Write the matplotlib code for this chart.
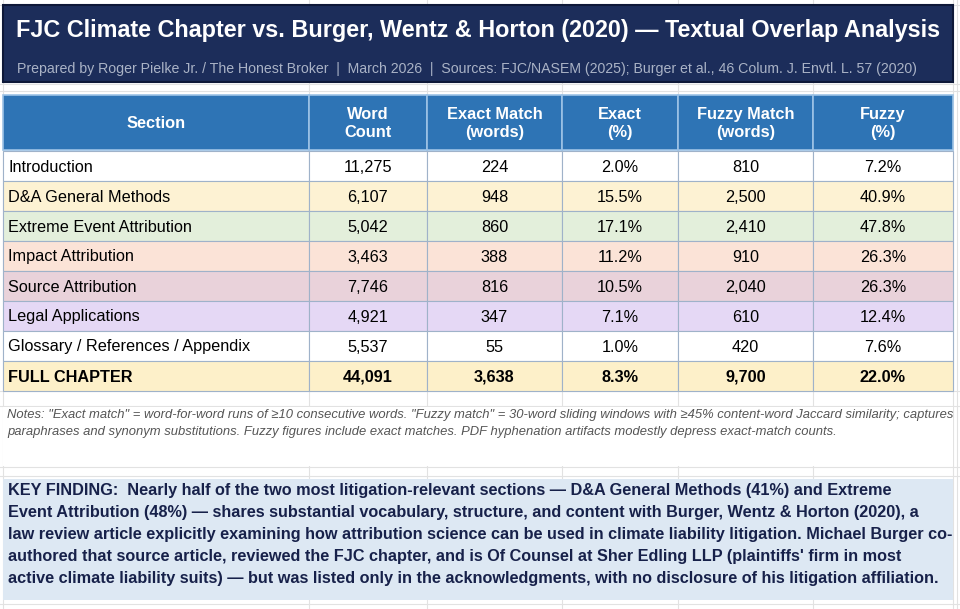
import matplotlib
matplotlib.use("Agg")
import matplotlib.pyplot as plt
from matplotlib.patches import Rectangle

plt.rcParams['font.family'] = ['Liberation Sans', 'DejaVu Sans']

title = "FJC Climate Chapter vs. Burger, Wentz & Horton (2020) \u2014 Textual Overlap Analysis"
subtitle = ("Prepared by Roger Pielke Jr. / The Honest Broker  |  March 2026  |  "
            "Sources: FJC/NASEM (2025); Burger et al., 46 Colum. J. Envtl. L. 57 (2020)")

headers = ["Section", "Word\nCount", "Exact Match\n(words)", "Exact\n(%)",
           "Fuzzy Match\n(words)", "Fuzzy\n(%)"]
sections = ["Introduction", "D&A General Methods", "Extreme Event Attribution",
            "Impact Attribution", "Source Attribution", "Legal Applications",
            "Glossary / References / Appendix", "FULL CHAPTER"]
word_count = [11275, 6107, 5042, 3463, 7746, 4921, 5537, 44091]
exact_words = [224, 948, 860, 388, 816, 347, 55, 3638]
exact_pct = [2.0, 15.5, 17.1, 11.2, 10.5, 7.1, 1.0, 8.3]
fuzzy_words = [810, 2500, 2410, 910, 2040, 610, 420, 9700]
fuzzy_pct = [7.2, 40.9, 47.8, 26.3, 26.3, 12.4, 7.6, 22.0]
row_colors = ["#ffffff", "#fdf2d3", "#e3efdb", "#fbe3d7", "#e9d2da",
              "#e5d8f5", "#ffffff", "#fdf0c9"]

notes = ['Notes: "Exact match" = word-for-word runs of \u226510 consecutive words. '
         '"Fuzzy match" = 30-word sliding windows with \u226545% content-word Jaccard similarity; captures',
         'paraphrases and synonym substitutions. Fuzzy figures include exact matches. '
         'PDF hyphenation artifacts modestly depress exact-match counts.']

key_lines = [
    "KEY FINDING:  Nearly half of the two most litigation-relevant sections \u2014 D&A General Methods (41%) and Extreme",
    "Event Attribution (48%) \u2014 shares substantial vocabulary, structure, and content with Burger, Wentz & Horton (2020), a",
    "law review article explicitly examining how attribution science can be used in climate liability litigation. Michael Burger co-",
    "authored that source article, reviewed the FJC chapter, and is Of Counsel at Sher Edling LLP (plaintiffs' firm in most",
    "active climate liability suits) \u2014 but was listed only in the acknowledgments, with no disclosure of his litigation affiliation.",
]

W, H = 960, 609
fig = plt.figure(figsize=(W / 100, H / 100), dpi=100)
ax = fig.add_axes([0, 0, 1, 1])
ax.set_xlim(0, W)
ax.set_ylim(H, 0)
ax.axis("off")

col_x = [3, 309, 427, 562, 678, 813, 953]

# spreadsheet background grid
grid_c = "#e2e2e2"
for gx in col_x + [957]:
    ax.plot([gx, gx], [0, H], color=grid_c, lw=0.8, zorder=0)
for gy in [5, 84, 91, 391, 406, 467, 476, 604]:
    ax.plot([0, W], [gy, gy], color=grid_c, lw=0.8, zorder=0)

# title block
ax.add_patch(Rectangle((3, 5), 950, 77, facecolor="#1c2d5a", edgecolor="#0e1838", lw=1.5, zorder=2))
ax.text(478, 31, title, color="white", fontsize=16.8, fontweight="bold",
        ha="center", va="center", zorder=3)
ax.text(17, 69, subtitle, color="#aab3c6", fontsize=10.2, ha="left", va="center", zorder=3)

# header row
hy0, hy1 = 95, 150
for i in range(6):
    ax.add_patch(Rectangle((col_x[i], hy0), col_x[i + 1] - col_x[i], hy1 - hy0,
                           facecolor="#2e74b5", edgecolor="#9dc3e6", lw=1.2, zorder=2))
    ax.text((col_x[i] + col_x[i + 1]) / 2, (hy0 + hy1) / 2 + 1, headers[i], color="white",
            fontsize=11.8, fontweight="bold", ha="center", va="center",
            linespacing=1.2, zorder=3)

# body rows
row_h = 30
for r, name in enumerate(sections):
    y0 = 151 + r * row_h
    bold = name == "FULL CHAPTER"
    vals = [name, f"{word_count[r]:,}", f"{exact_words[r]:,}", f"{exact_pct[r]:.1f}%",
            f"{fuzzy_words[r]:,}", f"{fuzzy_pct[r]:.1f}%"]
    for i in range(6):
        ax.add_patch(Rectangle((col_x[i], y0), col_x[i + 1] - col_x[i], row_h,
                               facecolor=row_colors[r], edgecolor="#9fb2c9", lw=0.8, zorder=2))
        if i == 0:
            ax.text(col_x[0] + 5, y0 + row_h / 2 + 1, vals[i], fontsize=11.7,
                    fontweight="bold" if bold else "normal", color="black",
                    ha="left", va="center", zorder=3)
        else:
            ax.text((col_x[i] + col_x[i + 1]) / 2, y0 + row_h / 2 + 1, vals[i], fontsize=11.7,
                    fontweight="bold" if bold else "normal", color="black",
                    ha="center", va="center", zorder=3)

# notes
ax.add_patch(Rectangle((3, 407), 950, 59, facecolor="white", edgecolor="none", zorder=1))
for k, line in enumerate(notes):
    ax.text(7, 415 + k * 17, line, fontsize=9.33, style="italic", color="#555555",
            ha="left", va="center", zorder=3)

# key finding
ax.add_patch(Rectangle((3, 479), 950, 121, facecolor="#dde8f3", edgecolor="none", zorder=2))
for k, line in enumerate(key_lines):
    ax.text(8, 491 + k * 21.8, line, fontsize=11.7, fontweight="bold", color="#17214a",
            ha="left", va="center", zorder=3)

fig.savefig("out.png", dpi=100)
